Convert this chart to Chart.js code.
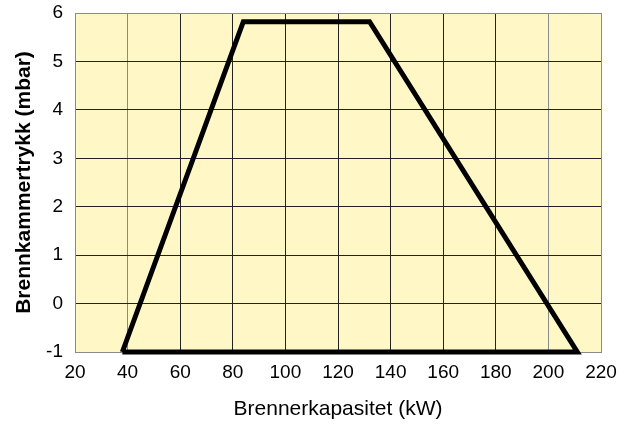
<!DOCTYPE html>
<html>
<head>
<meta charset="utf-8">
<script src="https://cdn.jsdelivr.net/npm/chart.js@4"></script>
<style>
  html, body { margin: 0; padding: 0; background: #ffffff; }
  #wrap { width: 633px; height: 425px; position: relative; }
</style>
</head>
<body>
<div id="wrap"><canvas id="c"></canvas></div>
<script>
// Data
const capacityKW = [38, 84, 132, 211, 38];        // Brennerkapasitet (kW)
const pressureMbar = [-1, 5.82, 5.82, -1, -1];     // Brennkammertrykk (mbar)
const xTicks = [20, 40, 60, 80, 100, 120, 140, 160, 180, 200, 220];
const yTicks = [-1, 0, 1, 2, 3, 4, 5, 6];
const xTitle = 'Brennerkapasitet (kW)';
const yTitle = 'Brennkammertrykk (mbar)';

const points = capacityKW.map((x, i) => ({ x: x, y: pressureMbar[i] }));

const areaBg = {
  id: 'areaBg',
  beforeDraw(chart) {
    const a = chart.chartArea, ctx = chart.ctx;
    ctx.save();
    ctx.fillStyle = '#FFF8C6';
    ctx.fillRect(a.left, a.top, a.right - a.left, a.bottom - a.top);
    ctx.restore();
  }
};

const FONT = 'Liberation Sans, Arial, sans-serif';
const gray = '#8a8a8a';
const dark = '#222222';

new Chart(document.getElementById('c'), {
  type: 'scatter',
  data: {
    datasets: [{
      data: points,
      showLine: true,
      borderColor: '#000000',
      borderWidth: 5,
      borderJoinStyle: 'miter',
      pointRadius: 0,
      pointHoverRadius: 0,
      fill: false,
      tension: 0,
      clip: false
    }]
  },
  options: {
    responsive: true,
    maintainAspectRatio: false,
    animation: false,
    events: [],
    layout: { padding: { top: 13, right: 32, left: 0, bottom: 0 } },
    plugins: { legend: { display: false }, tooltip: { enabled: false } },
    scales: {
      x: {
        type: 'linear',
        min: xTicks[0],
        max: xTicks[xTicks.length - 1],
        afterBuildTicks(axis) { axis.ticks = xTicks.map(v => ({ value: v })); },
        afterFit(axis) { axis.height = 73; axis.paddingLeft = 0; axis.paddingRight = 0; },
        grid: {
          drawTicks: false,
          lineWidth: 1,
          color: ctx => {
            const v = ctx.tick ? ctx.tick.value : null;
            return (v === 20 || v === 40 || v === 200 || v === 220) ? gray : dark;
          }
        },
        border: { display: true, color: gray, width: 1 },
        ticks: {
          padding: 9,
          color: '#000',
          font: { family: FONT, size: 19 },
          maxRotation: 0,
          autoSkip: false
        },
        title: {
          display: true,
          text: xTitle,
          color: '#000',
          font: { family: FONT, size: 21 },
          padding: { top: 0, bottom: 3 }
        }
      },
      y: {
        type: 'linear',
        min: yTicks[0],
        max: yTicks[yTicks.length - 1],
        afterBuildTicks(axis) { axis.ticks = yTicks.map(v => ({ value: v })); },
        afterFit(axis) { axis.width = 75; axis.paddingTop = 0; axis.paddingBottom = 0; },
        grid: {
          drawTicks: false,
          lineWidth: 1,
          color: ctx => {
            const v = ctx.tick ? ctx.tick.value : null;
            return (v === -1 || v === 6) ? gray : dark;
          }
        },
        border: { display: true, color: gray, width: 1 },
        ticks: {
          padding: 12,
          color: '#000',
          font: { family: FONT, size: 19 }
        },
        title: {
          display: true,
          text: yTitle,
          color: '#000',
          font: { family: FONT, size: 21, weight: 'bold' },
          padding: { top: 12, bottom: 0 }
        }
      }
    }
  },
  plugins: [areaBg]
});
</script>
</body>
</html>
